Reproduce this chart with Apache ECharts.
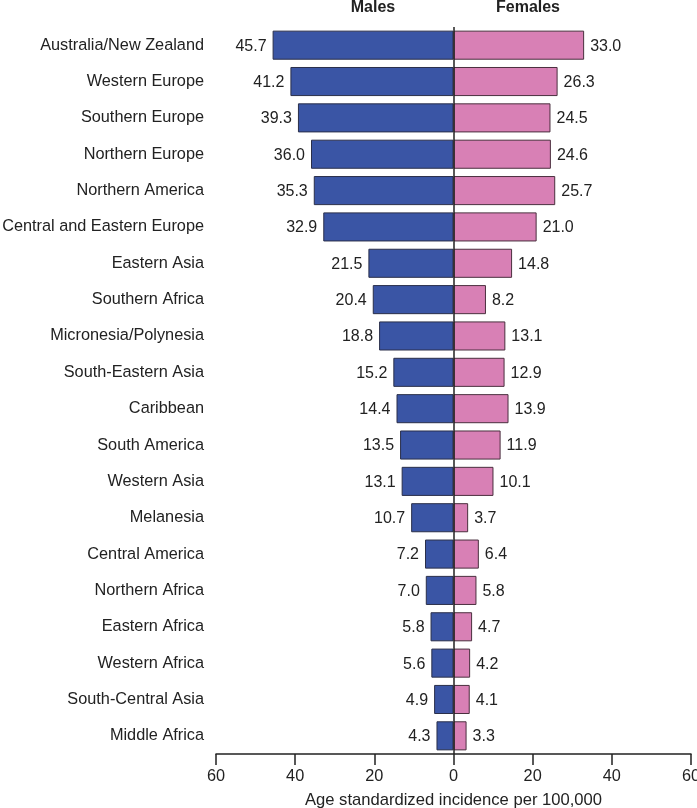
<!DOCTYPE html>
<html>
<head>
<meta charset="utf-8">
<script src="https://cdn.jsdelivr.net/npm/echarts@6/dist/echarts.min.js"></script>
<style>html,body{margin:0;padding:0;background:#fff}#c{width:697px;height:808px}</style>
</head>
<body>
<div id="c"></div>
<script>
var categories = ["Australia/New Zealand","Western Europe","Southern Europe","Northern Europe","Northern America","Central and Eastern Europe","Eastern Asia","Southern Africa","Micronesia/Polynesia","South-Eastern Asia","Caribbean","South America","Western Asia","Melanesia","Central America","Northern Africa","Eastern Africa","Western Africa","South-Central Asia","Middle Africa"];
var males = [45.7,41.2,39.3,36.0,35.3,32.9,21.5,20.4,18.8,15.2,14.4,13.5,13.1,10.7,7.2,7.0,5.8,5.6,4.9,4.3];
var females = [33.0,26.3,24.5,24.6,25.7,21.0,14.8,8.2,13.1,12.9,13.9,11.9,10.1,3.7,6.4,5.8,4.7,4.2,4.1,3.3];
var seriesNames = ["Males","Females"];
var xTicks = [-60,-40,-20,0,20,40,60];

var FONT = '"Liberation Sans", Arial, Helvetica, sans-serif';
var chart = echarts.init(document.getElementById('c'), null, {renderer:'canvas'});
var option = {
  animation:false,
  backgroundColor:'#fff',
  textStyle:{fontFamily:FONT},
  grid:{left:216, right:6, top:27, bottom:54, containLabel:false, outerBoundsMode:'none'},
  graphic:[
    {type:'text', x:373, y:7.5, style:{text:seriesNames[0], font:'bold 16px '+FONT, fill:'#222', align:'center', verticalAlign:'middle'}},
    {type:'text', x:528, y:7.5, style:{text:seriesNames[1], font:'bold 16px '+FONT, fill:'#222', align:'center', verticalAlign:'middle'}}
  ],
  xAxis:{
    type:'value', min:xTicks[0], max:xTicks[xTicks.length-1], interval:20,
    axisLine:{show:true, onZero:false, lineStyle:{color:'#222', width:1.5}},
    axisTick:{show:true, length:11, lineStyle:{color:'#222', width:1.5}},
    splitLine:{show:false},
    axisLabel:{color:'#222', fontSize:16.3, margin:15, fontFamily:FONT, formatter:function(v){return Math.abs(v);}},
    name:'Age standardized incidence per 100,000', nameLocation:'middle', nameGap:38,
    nameTextStyle:{color:'#222', fontSize:16.6, fontFamily:FONT}
  },
  yAxis:{
    type:'category', data:categories, inverse:true,
    axisLine:{show:false}, axisTick:{show:false},
    axisLabel:{color:'#222', fontSize:16.3, margin:12, fontFamily:FONT}
  },
  series:[
    {
      name:seriesNames[0], type:'bar', stack:'s', barWidth:'80%',
      data:males.map(function(v){return -v;}),
      itemStyle:{color:'#3A55A5', borderColor:'#2a2f4a', borderWidth:1},
      label:{show:true, position:'left', distance:6, color:'#222', fontSize:16, fontFamily:FONT, offset:[0,1],
        formatter:function(p){return Math.abs(p.value).toFixed(1);}},
      markLine:{silent:true, symbol:'none', label:{show:false},
        lineStyle:{color:'#222', width:1.5, type:'solid'}, data:[{xAxis:0}]}
    },
    {
      name:seriesNames[1], type:'bar', stack:'s', barWidth:'80%',
      data:females,
      itemStyle:{color:'#D880B5', borderColor:'#4a2f3e', borderWidth:1},
      label:{show:true, position:'right', distance:6, color:'#222', fontSize:16, fontFamily:FONT, offset:[0,1],
        formatter:function(p){return p.value.toFixed(1);}}
    }
  ]
};
chart.setOption(option);
</script>
</body>
</html>
